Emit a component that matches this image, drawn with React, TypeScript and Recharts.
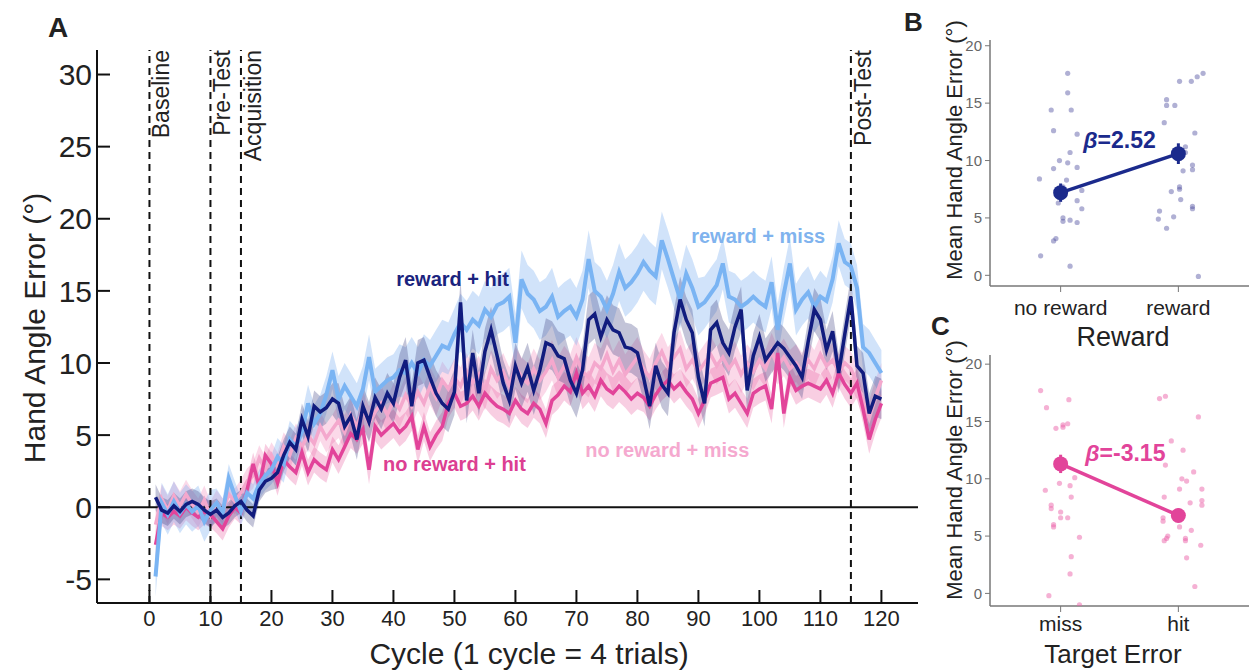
import React from 'react';
import {
  ComposedChart,
  Line,
  Area,
  XAxis,
  YAxis,
  ReferenceLine,
  ReferenceDot,
  ScatterChart,
  Scatter,
  ErrorBar,
} from 'recharts';

const FONT = '"Liberation Sans", Arial, Helvetica, sans-serif';

// ---- Panel A data ----
const cycleTicks = [0, 10, 20, 30, 40, 50, 60, 70, 80, 90, 100, 110, 120];
const angleTicks = [-5, 0, 5, 10, 15, 20, 25, 30];
const phaseStarts = [0, 10, 15, 115];
const phaseNames = ['Baseline', 'Pre-Test', 'Acquisition', 'Post-Test'];

const rewardMiss = [
  -4.8, 0.3, -0.5, 0.4, -0.4, 0.2, -0.3, 0.1, -1.0, -0.2,
  0.3, -0.4, 2.0, 0.8, -0.3, 1.0, 0.6, 1.6, 2.2, 2.6,
  3.5, 3.0, 4.7, 4.2, 5.2, 7.2, 5.8, 6.5, 7.8, 9.5,
  7.5, 8.4, 7.7, 7.0, 8.2, 10.4, 8.0, 8.4, 8.8, 9.0,
  9.5, 9.3, 10.0, 9.3, 10.2, 9.8, 10.5, 11.2, 11.0, 12.0,
  12.8, 12.3, 13.0, 12.6, 13.7, 13.2, 14.0, 14.2, 14.6, 11.4,
  15.8, 14.8, 14.4, 13.6, 13.9, 14.6, 13.2, 13.6, 13.9, 13.2,
  14.4, 17.2, 15.0, 14.6, 13.7, 14.8, 16.3, 15.2, 15.6, 16.2,
  17.0, 16.4, 16.0, 18.5, 17.2, 15.8, 14.4, 16.2, 15.2, 13.9,
  14.2, 14.8, 15.4, 16.9, 14.6, 14.4, 13.9, 14.2, 14.6, 14.2,
  13.9, 15.6, 12.3, 14.8, 16.9, 13.7, 14.4, 14.9, 13.9, 14.6,
  14.3, 15.8, 18.3, 17.0, 16.7, 15.2, 11.1, 10.7, 10.0, 9.3,
];

const rewardHit = [
  0.7, -0.2, -0.4, 0.1, -0.3, 0.2, 0.4, 0.2, -0.2, -0.5,
  -0.2, -0.7, -0.4, 0.1, 0.4, -0.2, -0.6, 1.2, 1.8, 2.0,
  2.4, 3.6, 4.5, 4.0, 6.1, 4.9, 7.0, 6.6, 6.9, 7.5,
  7.2, 5.6, 6.3, 4.7, 7.0, 5.9, 7.6, 6.8, 7.9, 7.2,
  9.0, 10.2, 7.0, 10.0, 10.2, 9.0, 7.9, 7.2, 6.8, 8.0,
  14.2, 7.4, 10.7, 7.9, 10.8, 12.3, 10.5, 8.6, 7.4, 9.8,
  8.6, 9.7, 8.1, 9.5, 11.4, 11.2, 10.5, 10.3, 8.8, 7.9,
  9.5, 13.0, 13.4, 11.8, 13.0, 12.3, 12.1, 11.1, 11.0, 10.7,
  9.0, 7.0, 9.8, 8.5, 7.9, 12.1, 14.4, 13.0, 12.1, 9.0,
  7.2, 12.3, 12.8, 11.4, 10.7, 12.5, 13.7, 8.1, 10.5, 11.8,
  10.2, 10.8, 11.4, 11.0, 10.4, 9.8, 9.0, 11.5, 13.7, 13.0,
  10.9, 12.2, 9.3, 12.0, 14.6, 9.8, 9.3, 6.5, 7.7, 7.5,
];

const noRewardHit = [
  -2.6, -0.4, -0.7, -0.3, -0.6, 0.0, -0.4, -0.7, -0.3, -0.5,
  -1.0, -1.5, -0.6, 0.0, -0.4, 1.2, 3.0, 1.4, 3.6, 3.0,
  1.7, 3.3, 2.8, 2.4, 3.8, 2.4, 3.3, 2.9, 2.6, 4.0,
  3.3, 4.2, 5.1, 4.7, 5.4, 2.6, 5.6, 5.0, 5.4, 5.8,
  5.2, 5.6, 6.3, 4.0, 5.6, 4.2, 5.0, 5.6, 7.2, 7.9,
  7.0, 7.2, 7.7, 7.0, 7.9, 7.4, 7.0, 6.8, 6.5, 7.4,
  6.8, 6.5, 7.2, 6.8, 5.8, 7.4, 7.8, 8.4, 8.0, 9.3,
  7.9, 8.4, 7.7, 8.8, 8.2, 7.9, 8.4, 8.0, 7.5, 7.9,
  7.6, 7.0, 7.8, 8.4, 8.8, 8.2, 8.6, 8.0, 7.5, 6.5,
  7.4, 8.6, 8.8, 9.0, 7.5, 7.9, 7.2, 6.5, 7.9, 8.2,
  8.4, 6.8, 10.7, 6.5, 9.0, 8.1, 8.4, 8.6, 8.4, 8.2,
  8.8, 7.9, 9.3, 8.5, 7.9, 8.6, 6.8, 4.7, 6.1, 7.2,
];

const noRewardMiss = [
  -1.2, 0.6, -0.2, 0.8, 0.1, 0.9, 0.2, -0.4, 0.5, -0.6,
  0.3, -0.3, 0.9, 0.4, 1.0, 1.8, 2.2, 3.4, 2.6, 3.6,
  2.8, 4.2, 3.6, 4.8, 4.2, 5.0, 4.4, 5.6, 4.8, 5.4,
  6.0, 5.2, 6.4, 5.6, 6.8, 5.8, 6.6, 7.2, 6.4, 7.4,
  6.8, 7.8, 7.0, 8.0, 7.2, 8.4, 7.6, 8.8, 8.2, 9.0,
  8.4, 9.4, 8.6, 9.2, 8.0, 9.6, 8.8, 9.4, 8.4, 9.8,
  9.0, 8.6, 9.6, 8.8, 9.4, 10.2, 9.0, 9.8, 9.2, 10.4,
  9.4, 9.0, 10.0, 9.6, 10.6, 9.4, 10.2, 9.2, 9.8, 10.4,
  9.6, 9.0, 10.0, 10.8, 9.8, 10.4, 11.0, 9.6, 10.2, 9.4,
  10.0, 10.6, 9.8, 10.4, 9.6, 10.2, 9.2, 10.0, 9.4, 10.2,
  9.6, 10.8, 9.8, 10.4, 9.6, 10.0, 9.4, 10.2, 9.6, 10.6,
  9.8, 10.2, 9.4, 10.0, 9.6, 8.6, 7.4, 6.2, 7.6, 8.8,
];

// shaded error half-width, one value per block of 10 cycles
const rewardMissSem = [1.4, 1.0, 1.3, 1.6, 1.8, 2.0, 2.0, 2.0, 2.0, 1.8, 1.8, 1.6];
const rewardHitSem = [0.9, 0.8, 1.1, 1.4, 1.6, 1.6, 1.7, 1.7, 1.6, 1.6, 1.5, 1.4];
const noRewardHitSem = [0.9, 0.8, 0.9, 1.0, 1.0, 1.0, 1.0, 1.1, 1.0, 1.0, 1.0, 1.0];
const noRewardMissSem = [1.0, 0.9, 1.0, 1.2, 1.3, 1.3, 1.4, 1.4, 1.3, 1.3, 1.3, 1.2];

// ---- Panel B / C data (jittered subject means) ----
const rewardLevels = ['no reward', 'reward'];
const noRewardPoints = [
  [1.06, 17.6], [1.06, 15.9], [0.92, 14.4], [1.09, 14.4], [0.94, 12.6], [1.14, 12.3],
  [1.08, 10.7], [0.99, 10.0], [1.06, 9.8], [0.94, 9.3], [1.14, 9.4], [0.82, 8.4],
  [1.05, 8.3], [1.02, 7.7], [1.18, 7.4], [0.98, 6.3], [1.14, 6.5], [1.18, 5.8],
  [1.02, 5.0], [1.02, 4.7], [1.08, 4.8], [1.14, 4.6], [0.96, 3.2], [0.94, 3.0],
  [0.83, 1.7], [1.08, 0.8],
];
const rewardPoints = [
  [2.01, 16.9], [2.11, 16.9], [2.16, 17.3], [2.21, 17.6], [1.9, 15.3], [1.9, 14.8],
  [1.97, 14.8], [1.88, 13.3], [2.14, 12.4], [2.06, 11.2], [2.06, 10.7], [2.12, 9.6],
  [2.12, 9.2], [2.04, 9.1], [2.01, 7.7], [2.01, 7.5], [1.94, 7.3], [2.02, 6.6],
  [2.12, 6.0], [2.12, 5.8], [1.84, 5.6], [1.83, 4.9], [1.96, 5.1], [1.9, 4.1],
  [2.17, -0.1],
];
const rewardMeans = [7.2, 10.6];
const rewardErr = [0.8, 0.9];

const errorLevels = ['miss', 'hit'];
const missPoints = [
  [0.83, 17.7], [0.88, 16.2], [1.07, 16.9], [0.96, 14.4], [1.02, 14.7], [1.06, 14.8],
  [1.02, 14.5], [1.12, 10.1], [0.99, 9.6], [1.08, 9.4], [0.87, 9.0], [1.09, 8.4],
  [0.92, 7.7], [0.92, 7.4], [1.0, 7.1], [1.0, 6.6], [1.06, 6.6], [0.94, 6.0],
  [0.94, 5.8], [1.16, 4.9], [1.09, 3.2], [1.08, 1.7], [0.9, -0.2], [1.16, -1.0],
];
const hitPoints = [
  [1.84, 17.0], [1.89, 17.2], [2.17, 15.4], [1.94, 13.3], [2.04, 12.5], [1.89, 11.2],
  [2.13, 10.6], [2.03, 10.0], [2.07, 9.8], [2.2, 9.1], [2.01, 9.1], [1.88, 8.4],
  [2.2, 8.1], [2.2, 7.7], [2.1, 7.9], [1.87, 6.6], [1.87, 6.3], [2.01, 5.8],
  [2.11, 5.5], [2.06, 4.8], [2.06, 4.6], [1.9, 4.8], [1.88, 4.6], [1.91, 5.0],
  [2.19, 4.2], [2.07, 3.1], [2.14, 0.6],
];
const errorMeans = [11.3, 6.8];
const errorErr = [0.8, 0.6];

const colors = {
  rewardMiss: '#7ab4f3',
  rewardMissBand: 'rgba(122,176,240,0.35)',
  rewardHit: '#111c7e',
  rewardHitBand: 'rgba(55,58,125,0.30)',
  noRewardHit: '#e2449a',
  noRewardHitBand: 'rgba(230,80,150,0.28)',
  noRewardMiss: '#f4a8cd',
  noRewardMissBand: 'rgba(245,160,200,0.40)',
  axis: '#111',
  text: '#222',
  bPoint: 'rgba(80,80,160,0.45)',
  bMean: '#1b2a8c',
  cPoint: 'rgba(236,100,170,0.5)',
  cMean: '#e2449a',
};

const cycleData = rewardMiss.map((_, i) => {
  const k = Math.floor(i / 10);
  return {
    cycle: i + 1,
    rm: rewardMiss[i],
    rh: rewardHit[i],
    nh: noRewardHit[i],
    nm: noRewardMiss[i],
    rmBand: [rewardMiss[i] - rewardMissSem[k], rewardMiss[i] + rewardMissSem[k]],
    rhBand: [rewardHit[i] - rewardHitSem[k], rewardHit[i] + rewardHitSem[k]],
    nhBand: [noRewardHit[i] - noRewardHitSem[k], noRewardHit[i] + noRewardHitSem[k]],
    nmBand: [noRewardMiss[i] - noRewardMissSem[k], noRewardMiss[i] + noRewardMissSem[k]],
  };
});

const toXY = (pts: number[][]) => pts.map(([x, y]) => ({ x, y }));
const meanRows = (means: number[], errs: number[]) =>
  means.map((y, i) => ({ x: i + 1, y, err: errs[i] }));

function PhaseLabel({ viewBox, text }: any) {
  const { x, y } = viewBox;
  return (
    <text
      transform={`translate(${x + 3}, ${y}) rotate(-90)`}
      textAnchor="end"
      dominantBaseline="hanging"
      fontSize={23}
      fill={colors.text}
      fontFamily={FONT}
    >
      {text}
    </text>
  );
}

function BetaLabel({ viewBox, value, color }: any) {
  const cx = viewBox.x + viewBox.width / 2;
  const cy = viewBox.y + viewBox.height / 2;
  return (
    <text
      x={cx}
      y={cy}
      textAnchor="middle"
      dominantBaseline="central"
      fontSize={23}
      fontWeight="bold"
      fill={color}
      fontFamily={FONT}
    >
      <tspan fontStyle="italic">β</tspan>
      {value}
    </text>
  );
}

const seriesLabel = (value: string, fill: string) => ({
  value,
  position: 'center' as const,
  fill,
  fontSize: 20,
  fontWeight: 'bold',
  fontFamily: FONT,
});

const dotShape = (fill: string, r: number) => (p: any) =>
  <circle cx={p.cx} cy={p.cy} r={r} fill={fill} />;

function GroupPanel({
  points1, points2, means, errs, levels, pointColor, meanColor, beta, betaX, betaY, top,
}: any) {
  return (
    <ScatterChart
      width={349}
      height={top ? 340 : 341}
      margin={top ? { top: 40, right: 0, bottom: 24, left: 50 } : { top: 25, right: 0, bottom: 35, left: 50 }}
    >
      <XAxis
        type="number"
        dataKey="x"
        domain={[0.4, 2.6]}
        ticks={[1, 2]}
        tickFormatter={(v: number) => levels[v - 1]}
        height={30}
        allowDataOverflow
        axisLine={{ stroke: '#777', strokeWidth: 1.5 }}
        tickLine={{ stroke: '#777' }}
        tickSize={6}
        tickMargin={top ? 8 : 4}
        tick={{ fontSize: 21, fill: colors.text, fontFamily: FONT }}
      />
      <YAxis
        type="number"
        dataKey="y"
        domain={top ? [-0.93, 20.5] : [-1.1, 20.8]}
        ticks={[0, 5, 10, 15, 20]}
        width={40}
        allowDataOverflow
        axisLine={{ stroke: '#777', strokeWidth: 1.5 }}
        tickLine={{ stroke: '#777' }}
        tickSize={5}
        tickMargin={3}
        tick={{ fontSize: 15, fill: '#666', fontFamily: FONT }}
      />
      <Scatter data={toXY(points1)} shape={dotShape(pointColor, 2.6)} isAnimationActive={false} />
      <Scatter data={toXY(points2)} shape={dotShape(pointColor, 2.6)} isAnimationActive={false} />
      <Scatter
        data={meanRows(means, errs)}
        line={{ stroke: meanColor, strokeWidth: 3.5 }}
        shape={dotShape(meanColor, 7.5)}
        isAnimationActive={false}
      >
        <ErrorBar dataKey="err" direction="y" width={0} stroke={meanColor} strokeWidth={3} />
      </Scatter>
      <ReferenceDot
        x={betaX}
        y={betaY}
        r={1}
        fill="none"
        stroke="none"
        label={(p: any) => <BetaLabel viewBox={p.viewBox} value={beta} color={meanColor} />}
      />
    </ScatterChart>
  );
}

export default function App() {
  return (
    <div
      style={{
        position: 'fixed',
        left: 0,
        top: 0,
        width: 1249,
        height: 671,
        background: '#fff',
        fontFamily: FONT,
      }}
    >
      {/* Panel A */}
      <div style={{ position: 'absolute', left: 0, top: 0 }}>
        <ComposedChart
          width={930}
          height={671}
          data={cycleData}
          margin={{ top: 50, right: 12, bottom: 28, left: 37 }}
        >
          <XAxis
            type="number"
            dataKey="cycle"
            domain={[-8.6, 126]}
            ticks={cycleTicks}
            allowDataOverflow
            height={40}
            axisLine={{ stroke: colors.axis, strokeWidth: 2 }}
            tickLine={{ stroke: colors.axis, strokeWidth: 2 }}
            tickSize={-13}
            tickMargin={20}
            tick={{ fontSize: 22, fill: colors.text, fontFamily: FONT }}
          />
          <YAxis
            type="number"
            domain={[-6.64, 31.7]}
            ticks={angleTicks}
            allowDataOverflow
            width={60}
            axisLine={{ stroke: colors.axis, strokeWidth: 2 }}
            tickLine={{ stroke: colors.axis, strokeWidth: 2 }}
            tickSize={-13}
            tickMargin={18}
            tick={{ fontSize: 30, fill: colors.text, fontFamily: FONT }}
          />
          <ReferenceLine y={0} stroke={colors.axis} strokeWidth={2} />
          {phaseStarts.map((x, i) => (
            <ReferenceLine
              key={x}
              x={x}
              stroke={colors.axis}
              strokeWidth={2}
              strokeDasharray="7 5"
              label={(p: any) => <PhaseLabel viewBox={p.viewBox} text={phaseNames[i]} />}
            />
          ))}
          <Area dataKey="nmBand" type="linear" stroke="none" fill={colors.noRewardMissBand} fillOpacity={1} isAnimationActive={false} activeDot={false} />
          <Area dataKey="nhBand" type="linear" stroke="none" fill={colors.noRewardHitBand} fillOpacity={1} isAnimationActive={false} activeDot={false} />
          <Area dataKey="rmBand" type="linear" stroke="none" fill={colors.rewardMissBand} fillOpacity={1} isAnimationActive={false} activeDot={false} />
          <Area dataKey="rhBand" type="linear" stroke="none" fill={colors.rewardHitBand} fillOpacity={1} isAnimationActive={false} activeDot={false} />
          <Line dataKey="nm" type="linear" stroke={colors.noRewardMiss} strokeWidth={3.5} dot={false} activeDot={false} isAnimationActive={false} />
          <Line dataKey="nh" type="linear" stroke={colors.noRewardHit} strokeWidth={3.5} dot={false} activeDot={false} isAnimationActive={false} />
          <Line dataKey="rm" type="linear" stroke={colors.rewardMiss} strokeWidth={4} dot={false} activeDot={false} isAnimationActive={false} />
          <Line dataKey="rh" type="linear" stroke={colors.rewardHit} strokeWidth={3.5} dot={false} activeDot={false} isAnimationActive={false} />
          <ReferenceDot x={49.7} y={15.8} r={1} fill="none" stroke="none" label={seriesLabel('reward + hit', '#1a237e')} />
          <ReferenceDot x={99.8} y={18.8} r={1} fill="none" stroke="none" label={seriesLabel('reward + miss', '#80b3ee')} />
          <ReferenceDot x={50} y={3.0} r={1} fill="none" stroke="none" label={seriesLabel('no reward + hit', '#dc3f92')} />
          <ReferenceDot x={84.9} y={4.0} r={1} fill="none" stroke="none" label={seriesLabel('no reward + miss', '#f5a9cf')} />
        </ComposedChart>
      </div>

      {/* Panel B */}
      <div style={{ position: 'absolute', left: 900, top: 0 }}>
        <GroupPanel
          top
          points1={noRewardPoints}
          points2={rewardPoints}
          means={rewardMeans}
          errs={rewardErr}
          levels={rewardLevels}
          pointColor={colors.bPoint}
          meanColor={colors.bMean}
          beta="=2.52"
          betaX={1.5}
          betaY={11.8}
        />
      </div>

      {/* Panel C */}
      <div style={{ position: 'absolute', left: 900, top: 330 }}>
        <GroupPanel
          points1={missPoints}
          points2={hitPoints}
          means={errorMeans}
          errs={errorErr}
          levels={errorLevels}
          pointColor={colors.cPoint}
          meanColor={colors.cMean}
          beta="=-3.15"
          betaX={1.55}
          betaY={12.25}
        />
      </div>

      {/* panel letters and axis titles */}
      <svg
        width={1249}
        height={671}
        style={{ position: 'absolute', left: 0, top: 0, pointerEvents: 'none' }}
        fontFamily={FONT}
        fill={colors.text}
      >
        <text x={48} y={37} fontSize={28} fontWeight="bold">A</text>
        <text transform="translate(45, 328) rotate(-90)" textAnchor="middle" fontSize={30}>
          Hand Angle Error (°)
        </text>
        <text x={529} y={664} textAnchor="middle" fontSize={30}>
          Cycle (1 cycle = 4 trials)
        </text>

        <text x={904} y={31} fontSize={26} fontWeight="bold">B</text>
        <text transform="translate(962, 150) rotate(-90)" textAnchor="middle" fontSize={22}>
          Mean Hand Angle Error (°)
        </text>
        <text x={1123} y={346} textAnchor="middle" fontSize={27}>Reward</text>

        <text x={931} y={335} fontSize={26} fontWeight="bold">C</text>
        <text transform="translate(962, 470) rotate(-90)" textAnchor="middle" fontSize={22}>
          Mean Hand Angle Error (°)
        </text>
        <text x={1113} y={663} textAnchor="middle" fontSize={26}>Target Error</text>
      </svg>
    </div>
  );
}
